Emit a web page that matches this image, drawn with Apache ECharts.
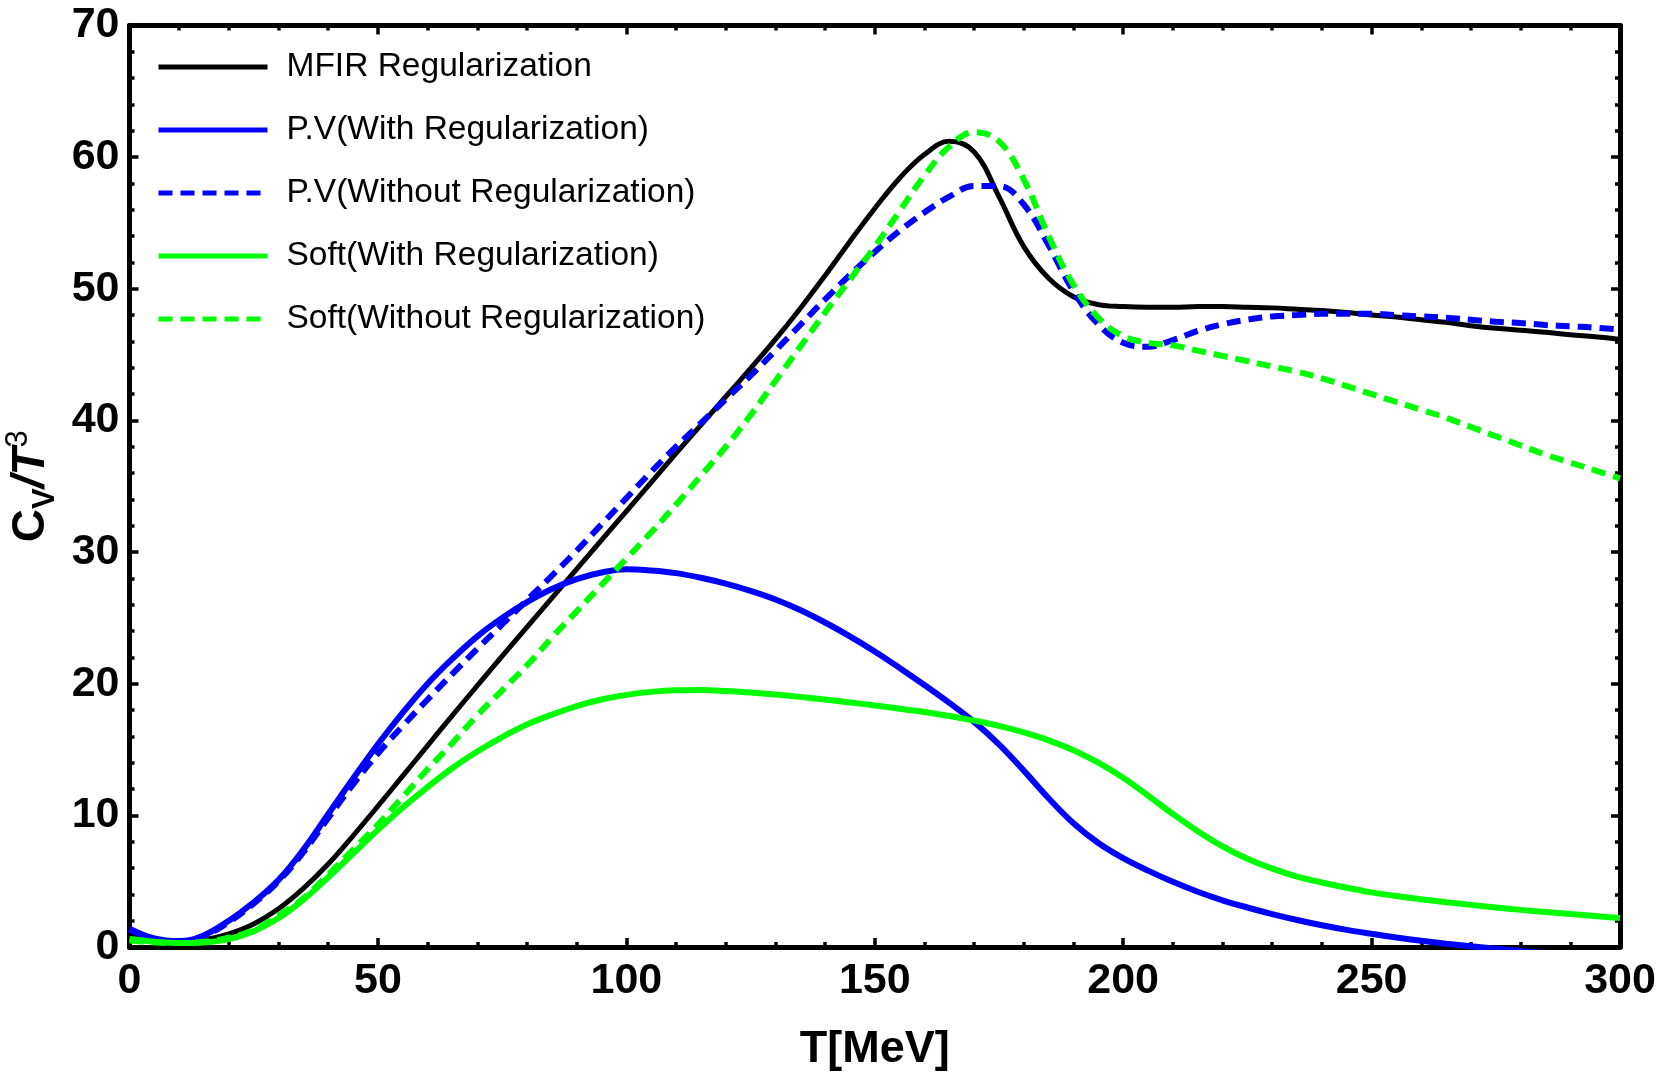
<!DOCTYPE html>
<html>
<head>
<meta charset="utf-8">
<title>Cv/T3</title>
<script src="https://cdn.jsdelivr.net/npm/echarts@6/dist/echarts.min.js"></script>
<style>
html,body{margin:0;padding:0;background:#fff;}
#main{width:1661px;height:1076px;}
</style>
</head>
<body>
<div id="main"></div>
<script>
// T [MeV]
var temps = [0,5,10,15,20,25,30,35,40,45,50,55,60,65,70,75,80,85,90,95,100,
    105,110,115,120,125,130,135,140,145,150,155,160,165,170,175,180,185,190,195,200,
    205,210,215,220,225,230,235,240,245,250,255,260,265,270,275,280,285,290,295,300];

var mfirReg = [1.0,0.6,0.4,0.55,1.0,1.75,2.9,4.45,6.3,8.45,10.7,13.0,15.3,17.6,19.85,22.1,24.3,26.5,28.7,30.9,33.1,
    35.3,37.5,39.65,41.8,43.95,46.15,48.5,51.0,53.6,56.1,58.4,60.2,61.2,60.4,57.0,53.2,50.8,49.4,48.8,48.65,
    48.6,48.6,48.65,48.65,48.6,48.55,48.45,48.35,48.2,48.0,47.85,47.65,47.45,47.2,47.0,46.85,46.7,46.5,46.35,46.15];

var pvReg = [1.4,0.65,0.45,0.9,2.0,3.4,5.1,7.4,10.1,12.8,15.4,17.8,20.0,21.9,23.6,25.0,26.2,27.2,27.95,28.45,28.7,
    28.6,28.4,28.05,27.6,27.05,26.4,25.6,24.65,23.6,22.45,21.2,19.9,18.55,17.1,15.4,13.4,11.3,9.4,7.9,6.75,
    5.8,4.95,4.2,3.55,3.0,2.5,2.05,1.65,1.3,1.0,0.72,0.47,0.25,0.05,-0.13,-0.3,-0.45,-0.6,-0.75,-0.9];

var pvNoReg = [1.3,0.6,0.4,0.85,1.9,3.3,5.0,7.2,9.8,12.35,14.7,16.8,18.8,20.75,22.65,24.5,26.35,28.2,30.1,32.1,34.1,
    36.1,38.0,39.8,41.6,43.4,45.3,47.25,49.2,51.05,52.8,54.4,55.8,57.0,57.8,57.8,56.4,53.3,49.8,47.3,45.9,
    45.6,46.1,46.8,47.3,47.65,47.9,48.0,48.1,48.1,48.1,48.0,47.9,47.8,47.65,47.5,47.4,47.25,47.15,47.05,46.9];

var softReg = [0.6,0.4,0.3,0.35,0.6,1.2,2.2,3.6,5.3,7.1,8.9,10.6,12.15,13.6,14.85,15.95,16.9,17.65,18.3,18.8,19.15,
    19.38,19.5,19.52,19.45,19.33,19.18,19.0,18.8,18.58,18.35,18.1,17.85,17.55,17.2,16.8,16.3,15.7,14.95,14.0,12.85,
    11.5,10.1,8.8,7.65,6.7,5.95,5.35,4.9,4.5,4.15,3.87,3.62,3.4,3.2,3.0,2.82,2.66,2.5,2.35,2.2];

var softNoReg = [0.5,0.35,0.3,0.4,0.7,1.3,2.4,3.7,5.5,7.4,9.3,11.4,13.5,15.5,17.6,19.5,21.4,23.5,25.5,27.5,29.5,
    31.5,33.6,35.8,38.0,40.4,43.0,45.6,48.2,50.7,53.2,55.9,58.6,60.8,61.9,61.2,58.3,54.0,50.3,47.8,46.4,
    45.9,45.7,45.3,44.9,44.5,44.1,43.7,43.2,42.6,42.0,41.4,40.8,40.2,39.5,38.8,38.1,37.4,36.8,36.2,35.6];

var seriesNames = ['MFIR Regularization','P.V(With Regularization)','P.V(Without Regularization)',
    'Soft(With Regularization)','Soft(Without Regularization)'];

function pairs(ys){
    var out = [];
    for (var i = 0; i < temps.length; i++) {
        out.push([temps[i], ys[i]]);
    }
    return out;
}

function makeLine(name, ys, color, width, dashed){
    return {
        name: name,
        type: 'line',
        xAxisIndex: 0,
        yAxisIndex: 0,
        data: pairs(ys),
        smooth: 0.4,
        symbol: 'none',
        clip: true,
        lineStyle: {color: color, width: width, type: dashed ? [14, 8] : 'solid', cap: 'butt'},
        itemStyle: {color: color}
    };
}

var font = 'Liberation Sans, Arial, sans-serif';
var tickCommon = {
    axisLine: {show: true, onZero: false, lineStyle: {color: '#000', width: 5}},
    axisTick: {show: true, inside: true, length: 9, lineStyle: {color: '#000', width: 3.5}},
    minorTick: {show: true, splitNumber: 5, length: 5, lineStyle: {color: '#000', width: 3.5}},
    splitLine: {show: false},
    minorSplitLine: {show: false}
};

var myChart = echarts.init(document.getElementById('main'));
var option = {
    backgroundColor: '#fff',
    animation: false,
    grid: {left: 129.5, right: 41, top: 25.5, bottom: 129, containLabel: false, outerBoundsMode: 'none'},
    legend: {
        orient: 'vertical',
        left: 156,
        top: 49,
        padding: 0,
        itemWidth: 109,
        itemHeight: 14,
        itemGap: 27,
        data: seriesNames,
        lineStyle: {width: 5},
        itemStyle: {opacity: 0},
        textStyle: {fontFamily: font, fontSize: 33.5, color: '#000', lineHeight: 36, padding: [0, 0, 0, 14]}
    },
    xAxis: [
        Object.assign({
            type: 'value', position: 'bottom', min: 0, max: 300, interval: 50,
            name: 'T[MeV]', nameLocation: 'middle', nameGap: 80,
            nameTextStyle: {fontFamily: font, fontSize: 45, fontWeight: 'bold', color: '#000'},
            axisLabel: {fontFamily: font, fontSize: 43, fontWeight: 'bold', color: '#000', margin: 13}
        }, tickCommon),
        Object.assign({
            type: 'value', position: 'top', min: 0, max: 300, interval: 50,
            axisLabel: {show: false}
        }, tickCommon)
    ],
    yAxis: [
        Object.assign({
            type: 'value', position: 'left', min: 0, max: 70, interval: 10,
            name: '{c|C}{v|V}{s|/}{t|T}{p|3}', nameLocation: 'middle', nameGap: 62, nameRotate: 90,
            nameTextStyle: {
                color: '#000',
                padding: [0, 0, 0, 0],
                rich: {
                    c: {fontFamily: font, fontSize: 46, fontWeight: 'bold', color: '#000', lineHeight: 58, verticalAlign: 'middle'},
                    v: {fontFamily: font, fontSize: 31, fontWeight: 'bold', color: '#000', verticalAlign: 'bottom', padding: [14, 0, 0, 0]},
                    s: {fontFamily: font, fontSize: 46, fontWeight: 'bold', fontStyle: 'italic', color: '#000', verticalAlign: 'middle'},
                    t: {fontFamily: font, fontSize: 46, fontWeight: 'bold', fontStyle: 'italic', color: '#000', verticalAlign: 'middle'},
                    p: {fontFamily: font, fontSize: 31, color: '#000', verticalAlign: 'top', padding: [0, 0, 14, 0]}
                }
            },
            axisLabel: {fontFamily: font, fontSize: 43, fontWeight: 'bold', color: '#000', margin: 10}
        }, tickCommon),
        Object.assign({
            type: 'value', position: 'right', min: 0, max: 70, interval: 10,
            axisLabel: {show: false}
        }, tickCommon)
    ],
    series: [
        makeLine(seriesNames[0], mfirReg, '#000000', 5, false),
        makeLine(seriesNames[1], pvReg, '#0000ff', 6, false),
        makeLine(seriesNames[2], pvNoReg, '#0000ff', 6, true),
        makeLine(seriesNames[3], softReg, '#00ff00', 6, false),
        makeLine(seriesNames[4], softNoReg, '#00ff00', 6, true)
    ]
};
myChart.setOption(option, true);
</script>
</body>
</html>
